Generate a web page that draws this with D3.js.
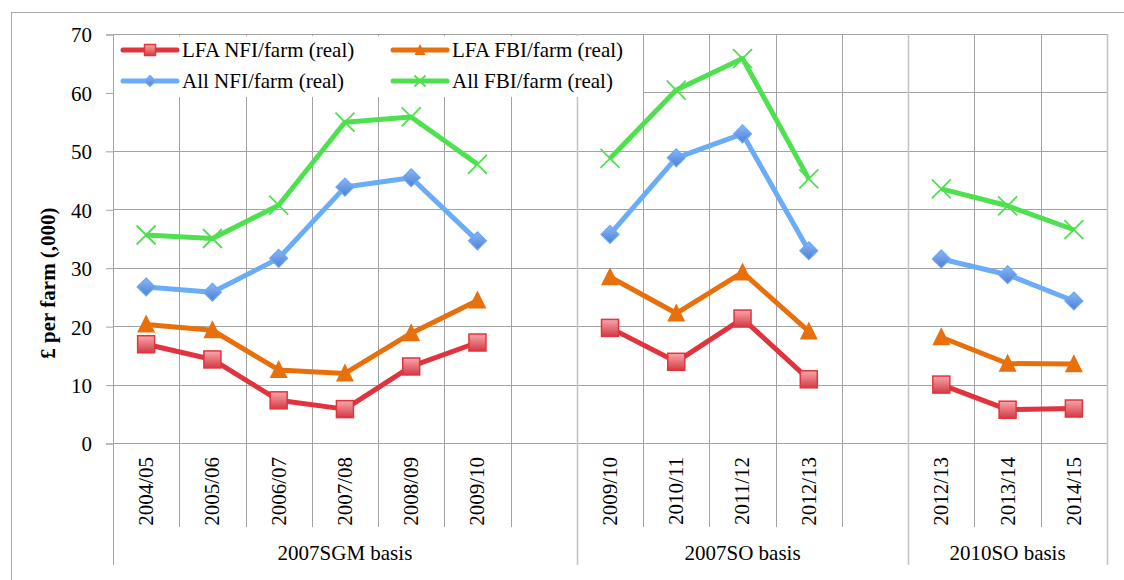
<!DOCTYPE html>
<html>
<head>
<meta charset="utf-8">
<script src="https://cdn.jsdelivr.net/npm/d3@7"></script>
<style>
  html, body { margin: 0; padding: 0; background: #fff; }
</style>
</head>
<body>
<svg id="chart" width="1124" height="580"></svg>
<script>
// ---------- data ----------
const categories = ["2004/05","2005/06","2006/07","2007/08","2008/09","2009/10","",
                    "2009/10","2010/11","2011/12","2012/13","",
                    "2012/13","2013/14","2014/15"];
const groupOf = [0,0,0,0,0,0,0, 1,1,1,1,1, 2,2,2];
const groupLabels = ["2007SGM basis","2007SO basis","2010SO basis"];
const yTicks = [0,10,20,30,40,50,60,70];
const seriesNames = ["LFA NFI/farm (real)","LFA FBI/farm (real)","All NFI/farm (real)","All FBI/farm (real)"];
const lfaNFI = [16.9,14.3,7.3,5.8,13.1,17.2,null, 19.7,13.9,21.3,10.9,null, 10.0,5.7,5.9];
const lfaFBI = [20.3,19.3,12.5,11.9,18.8,24.4,null, 28.4,22.2,29.2,19.1,null, 18.1,13.6,13.5];
const allNFI = [26.7,25.8,31.6,43.8,45.4,34.6,null, 35.7,48.8,52.9,32.9,null, 31.5,28.8,24.3];
const allFBI = [35.6,35.0,40.7,54.9,55.8,47.7,null, 48.7,60.4,65.8,45.2,null, 43.5,40.6,36.5];

// ---------- layout ----------
const FONT = "'Liberation Serif', 'Times New Roman', Times, serif";
const svg = d3.select("#chart").attr("font-family", FONT);
const L = 113, R = 1107, T = 34, B = 443;
const grid = "#a3a3a3";

svg.append("rect").attr("x",0).attr("y",0).attr("width",1124).attr("height",580).attr("fill","#fff");
svg.append("rect").attr("x",11.5).attr("y",12.5).attr("width",1124).attr("height",600)
  .attr("fill","none").attr("stroke","#aaaaaa").attr("stroke-width",1);

const x = d3.scaleBand().domain(d3.range(categories.length)).range([L, R]).padding(0);
const y = d3.scaleLinear().domain([0, 70]).range([B, T]);

const defs = svg.append("defs");
const gRed = defs.append("linearGradient").attr("id","gRed").attr("x1",0).attr("y1",0).attr("x2",0).attr("y2",1);
gRed.append("stop").attr("offset","0%").attr("stop-color","#f9a7ab");
gRed.append("stop").attr("offset","100%").attr("stop-color","#d33a44");
const gBlue = defs.append("linearGradient").attr("id","gBlue").attr("x1",0).attr("y1",0).attr("x2",0).attr("y2",1);
gBlue.append("stop").attr("offset","0%").attr("stop-color","#8ab8f5");
gBlue.append("stop").attr("offset","100%").attr("stop-color","#4c7fd6");

function txt(sel, size, weight) {
  return sel.style("font-family", FONT).style("font-size", size + "px")
    .style("font-weight", weight || "normal").attr("fill", "#000");
}

// y axis
const yAxis = d3.axisLeft(y).tickValues(yTicks).tickSize(7).tickPadding(14).tickFormat(d3.format("d"));
const ya = svg.append("g").attr("transform",`translate(${L},0.5)`).call(yAxis);
ya.attr("font-family", FONT);
ya.select(".domain").attr("stroke",grid);
ya.selectAll(".tick line").attr("stroke",grid);
txt(ya.selectAll(".tick text"), 21).attr("dy","0.35em");

svg.append("g").selectAll("line").data(yTicks).join("line")
  .attr("x1",L).attr("x2",R).attr("y1",d=>Math.round(y(d))+0.5).attr("y2",d=>Math.round(y(d))+0.5)
  .attr("stroke",grid).attr("stroke-width",1);

// vertical gridlines at category boundaries
const bounds = d3.range(categories.length + 1);
const bx = i => i < categories.length ? x(i) : R;
const isGroupEdge = i => i === 0 || i === categories.length || groupOf[i] !== groupOf[i-1];
svg.append("g").selectAll("line").data(bounds).join("line")
  .attr("x1",i=>Math.round(bx(i))+0.5).attr("x2",i=>Math.round(bx(i))+0.5)
  .attr("y1",T).attr("y2",i=> isGroupEdge(i) ? 565 : 527)
  .attr("stroke",i => (isGroupEdge(i) && i!==0) ? "#c4c4c4" : grid)
  .attr("stroke-width",i => (isGroupEdge(i) && i!==0) ? 1.6 : 1);

// category labels
txt(svg.append("g").selectAll("text").data(categories.map((c,i)=>({c,i})).filter(d=>d.c!=="")).join("text")
  .attr("transform",d=>`translate(${x(d.i)+x.bandwidth()/2},457) rotate(-90)`)
  .attr("text-anchor","end").attr("dy","0.33em"), 21).text(d=>d.c);

// group labels
groupLabels.forEach((g,gi)=>{
  const idx = d3.range(categories.length).filter(i=>groupOf[i]===gi);
  const x0 = x(idx[0]), x1 = x(idx[idx.length-1]) + x.bandwidth();
  txt(svg.append("text").attr("x",(x0+x1)/2).attr("y",553).attr("dy","0.33em")
    .attr("text-anchor","middle"), 21).text(g);
});

// y axis title
txt(svg.append("text").attr("transform","translate(48,283) rotate(-90)")
  .attr("text-anchor","middle").attr("dy","0.33em"), 21, "bold").text("£ per farm (,000)");

// ---------- series ----------
const series = [
  {name:seriesNames[0], values:lfaNFI, color:"#e0333d", marker:"square"},
  {name:seriesNames[1], values:lfaFBI, color:"#e8700c", marker:"triangle"},
  {name:seriesNames[2], values:allNFI, color:"#6aacf7", marker:"diamond"},
  {name:seriesNames[3], values:allFBI, color:"#4ee04e", marker:"x"}
];

function drawMarker(g, type, cx, cy, s, color) {
  if (type === "square") {
    g.append("rect").attr("x",cx-s/2).attr("y",cy-s/2).attr("width",s).attr("height",s)
      .attr("fill","url(#gRed)").attr("stroke","#e3343e").attr("stroke-width",1.5);
  } else if (type === "triangle") {
    const h = s;
    g.append("path").attr("d",`M${cx},${cy-h*0.55} L${cx+s/2},${cy+h*0.45} L${cx-s/2},${cy+h*0.45} Z`)
      .attr("fill","#e8700c");
  } else if (type === "diamond") {
    const r = s/2;
    g.append("path").attr("d",`M${cx},${cy-r} L${cx+r},${cy} L${cx},${cy+r} L${cx-r},${cy} Z`)
      .attr("fill","url(#gBlue)").attr("stroke","#69a9f5").attr("stroke-width",1.2);
  } else {
    const r = s/2;
    g.append("path").attr("d",`M${cx-r},${cy-r} L${cx+r},${cy+r} M${cx-r},${cy+r} L${cx+r},${cy-r}`)
      .attr("stroke",color).attr("stroke-width",1.8).attr("fill","none");
  }
}

const line = d3.line().defined(d=>d.v!==null).x(d=>x(d.i)+x.bandwidth()/2).y(d=>y(d.v));
const markerSize = {square:17, triangle:18, diamond:18, x:19};

series.forEach(s=>{
  const pts = s.values.map((v,i)=>({v,i}));
  const g = svg.append("g");
  g.append("path").datum(pts).attr("d",line).attr("fill","none")
    .attr("stroke",s.color).attr("stroke-width",5).attr("stroke-linejoin","round");
  pts.filter(d=>d.v!==null).forEach(d=>{
    drawMarker(g, s.marker, x(d.i)+x.bandwidth()/2, y(d.v), markerSize[s.marker], s.color);
  });
});

// ---------- legend ----------
const lg = svg.append("g");
lg.append("rect").attr("x",114).attr("y",36).attr("width",529).attr("height",61).attr("fill","#fff");
const legPos = [[123,50],[393,50],[123,81],[393,81]];
series.forEach((s,k)=>{
  const [lx,ly] = legPos[k];
  lg.append("line").attr("x1",lx).attr("x2",lx+54).attr("y1",ly).attr("y2",ly)
    .attr("stroke",s.color).attr("stroke-width",5).attr("stroke-linecap","round");
  drawMarker(lg, s.marker, lx+27, ly, 11, s.color);
  txt(lg.append("text").attr("x",lx+59).attr("y",ly).attr("dy","0.33em"), 21).text(s.name);
});
</script>
</body>
</html>
